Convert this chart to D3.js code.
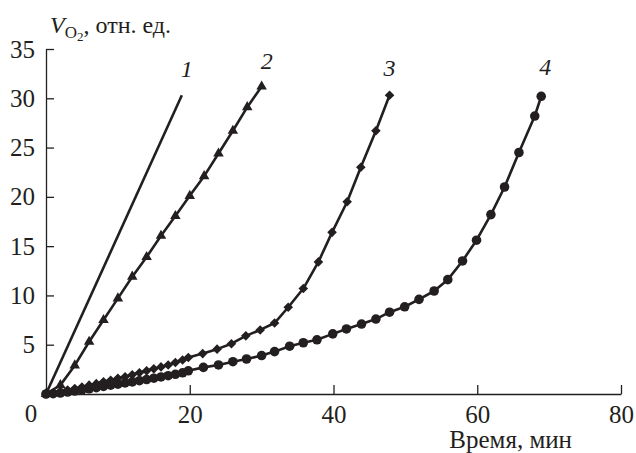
<!DOCTYPE html>
<html>
<head>
<meta charset="utf-8">
<script src="https://cdn.jsdelivr.net/npm/d3@7"></script>
</head>
<body style="margin:0">
<div class="canvas"></div>
<script>
// data (time in min, V_O2 in rel. units)
const curve1T = [0, 18.9];
const curve1V = [0, 30.3];

const curve2T = [0, 2, 4, 6, 8, 10, 12, 14, 16, 18, 20, 22, 24, 26, 28, 30];
const curve2V = [0, 0.9, 2.9, 5.3, 7.5, 9.7, 11.9, 13.9, 16.05, 18.05, 20.1, 22.1, 24.4, 26.7, 29.1, 31.2];

const curve3T = [0, 1, 2, 3, 4, 5, 6, 7, 8, 9, 10, 11, 12, 13, 14, 15, 16, 17, 18, 19, 19.8,
    21.8, 23.8, 25.8, 27.8, 29.8, 31.8, 33.7, 35.8, 37.9, 39.8, 41.9, 43.8, 45.9, 47.8];
const curve3V = [0, 0.1, 0.25, 0.4, 0.55, 0.7, 0.9, 1.05, 1.25, 1.4, 1.6, 1.75, 1.95, 2.15, 2.35, 2.55, 2.75, 2.95, 3.2, 3.45, 3.7,
    4.1, 4.55, 5.1, 5.9, 6.5, 7.2, 8.8, 10.7, 13.4, 16.4, 19.5, 23.0, 26.7, 30.3];

const curve4T = [0, 1, 2, 3, 4, 5, 6, 7, 8, 9, 10, 11, 12, 13, 14, 15, 16, 17, 18, 19, 19.8,
    21.9, 24, 26, 27.9, 30, 31.8, 33.9, 35.8, 37.7, 39.9, 41.8, 43.9, 45.9, 47.8, 49.9, 51.9, 54,
    55.9, 57.95, 59.9, 61.9, 63.8, 65.8, 68, 68.9];
const curve4V = [0, 0.03, 0.1, 0.2, 0.3, 0.42, 0.53, 0.65, 0.77, 0.89, 1.0, 1.12, 1.23, 1.35, 1.47, 1.6, 1.73, 1.86, 2.0, 2.15, 2.35,
    2.7, 2.95, 3.28, 3.55, 3.9, 4.3, 4.85, 5.2, 5.5, 6.1, 6.6, 7.1, 7.6, 8.3, 8.85, 9.6, 10.45,
    11.6, 13.5, 15.6, 18.2, 21.0, 24.5, 28.2, 30.2];

const curveNames = ['1', '2', '3', '4'];
const xTicks = [20, 40, 60, 80];
const yTicks = [5, 10, 15, 20, 25, 30, 35];

const ink = '#231f20';
const serif = '"Times New Roman"';

// svg container
const svg = d3.select('.canvas')
    .append('svg')
    .attr('width', 636)
    .attr('height', 453);

const margin = { top: 49, right: 15, left: 46, bottom: 59 };
const width = 636 - margin.right;
const height = 453 - margin.bottom;

const x = d3.scaleLinear()
    .domain([0, 80])
    .range([margin.left, width]);

const y = d3.scaleLinear()
    .domain([0, 35])
    .range([height, margin.top]);

// axes
const xAxis = d3.axisBottom(x)
    .tickValues(xTicks)
    .tickSizeInner(-9)
    .tickSizeOuter(0)
    .tickPadding(11);

const yAxis = d3.axisLeft(y)
    .tickValues(yTicks)
    .tickSizeInner(-8)
    .tickSizeOuter(0)
    .tickPadding(11);

const xAxisGroup = svg.append('g')
    .attr('transform', `translate(0, ${height})`)
    .call(xAxis);

const yAxisGroup = svg.append('g')
    .attr('transform', `translate(${margin.left}, 0)`)
    .call(yAxis);

[xAxisGroup, yAxisGroup].forEach(g => {
    g.attr('font-family', null).attr('font-size', null);
    g.select('.domain').attr('stroke', ink).attr('stroke-width', 1.3);
    g.selectAll('.tick line').attr('stroke', ink).attr('stroke-width', 1.3);
    g.selectAll('.tick text')
        .attr('fill', ink)
        .attr('font-size', 25)
        .style('font-family', serif);
});

// shared zero label at the corner
svg.append('text')
    .attr('x', x(0) - 15)
    .attr('y', height + 28)
    .attr('text-anchor', 'middle')
    .attr('fill', ink)
    .attr('font-size', 25)
    .style('font-family', serif)
    .text('0');

// axis titles
const yTitle = svg.append('text')
    .attr('x', margin.left + 4)
    .attr('y', 33)
    .attr('fill', ink)
    .attr('font-size', 24)
    .style('font-family', serif);
yTitle.append('tspan').attr('font-style', 'italic').text('V');
yTitle.append('tspan').attr('dy', 5).attr('font-size', 17).text('O');
yTitle.append('tspan').attr('dy', 3).attr('font-size', 13).text('2');
yTitle.append('tspan').attr('dy', -8).text(', отн. ед.');

svg.append('text')
    .attr('x', 572)
    .attr('y', 448)
    .attr('text-anchor', 'end')
    .attr('fill', ink)
    .attr('font-size', 25)
    .style('font-family', serif)
    .text('Время, мин');

// series
const toPoints = (ts, vs) => ts.map((t, i) => ({ t, v: vs[i] }));
const series = [
    { name: curveNames[0], pts: toPoints(curve1T, curve1V), symbol: null },
    { name: curveNames[1], pts: toPoints(curve2T, curve2V), symbol: 'triangle' },
    { name: curveNames[2], pts: toPoints(curve3T, curve3V), symbol: 'diamond' },
    { name: curveNames[3], pts: toPoints(curve4T, curve4V), symbol: 'circle' }
];

const line = d3.line()
    .x(d => x(d.t))
    .y(d => y(d.v));

const plot = svg.append('g');

plot.selectAll('path.curve')
    .data(series)
    .enter()
    .append('path')
    .attr('class', 'curve')
    .attr('d', d => line(d.pts))
    .attr('fill', 'none')
    .attr('stroke', ink)
    .attr('stroke-width', 2.6)
    .attr('stroke-linejoin', 'round');

const shapes = {
    triangle: { type: d3.symbolTriangle, size: 48, rotate: 0 },
    diamond: { type: d3.symbolSquare, size: 46, rotate: 45 },
    circle: { type: d3.symbolCircle, size: 72, rotate: 0 }
};

series.filter(s => s.symbol).forEach(s => {
    const sh = shapes[s.symbol];
    plot.append('g')
        .selectAll('path')
        .data(s.pts)
        .enter()
        .append('path')
        .attr('d', d3.symbol().type(sh.type).size(sh.size))
        .attr('transform', d => `translate(${x(d.t)}, ${y(d.v)}) rotate(${sh.rotate})`)
        .attr('fill', ink);
});

// curve numbers near the end of each curve
const labelOffset = [[5, -18], [5, -17], [0, -19], [4, -21]];
svg.selectAll('text.curve-name')
    .data(series)
    .enter()
    .append('text')
    .attr('class', 'curve-name')
    .attr('x', (d, i) => x(d.pts[d.pts.length - 1].t) + labelOffset[i][0])
    .attr('y', (d, i) => y(d.pts[d.pts.length - 1].v) + labelOffset[i][1])
    .attr('text-anchor', 'middle')
    .attr('fill', ink)
    .attr('font-size', 24)
    .attr('font-style', 'italic')
    .style('font-family', serif)
    .text(d => d.name);
</script>
</body>
</html>
